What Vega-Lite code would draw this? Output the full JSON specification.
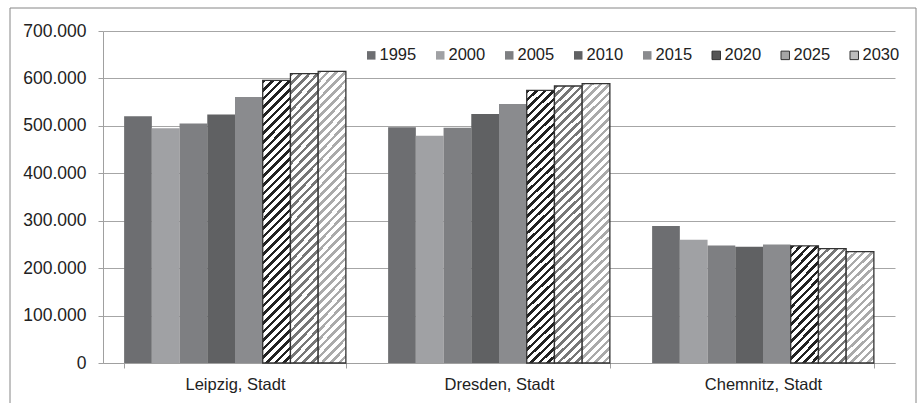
{
"$schema":"https://vega.github.io/schema/vega-lite/v6.json",
"width":792,"height":332,
"autosize":{"type":"none"},
"padding":{"left":103,"top":31,"right":27,"bottom":40},
"background":"white",
"data":{"values":[
{"city":"Leipzig, Stadt","year":"1995","value":520000},
{"city":"Leipzig, Stadt","year":"2000","value":495000},
{"city":"Leipzig, Stadt","year":"2005","value":505000},
{"city":"Leipzig, Stadt","year":"2010","value":524000},
{"city":"Leipzig, Stadt","year":"2015","value":561000},
{"city":"Leipzig, Stadt","year":"2020","value":596000},
{"city":"Leipzig, Stadt","year":"2025","value":610000},
{"city":"Leipzig, Stadt","year":"2030","value":615000},
{"city":"Dresden, Stadt","year":"1995","value":497000},
{"city":"Dresden, Stadt","year":"2000","value":479000},
{"city":"Dresden, Stadt","year":"2005","value":496000},
{"city":"Dresden, Stadt","year":"2010","value":525000},
{"city":"Dresden, Stadt","year":"2015","value":546000},
{"city":"Dresden, Stadt","year":"2020","value":575000},
{"city":"Dresden, Stadt","year":"2025","value":584000},
{"city":"Dresden, Stadt","year":"2030","value":589000},
{"city":"Chemnitz, Stadt","year":"1995","value":289000},
{"city":"Chemnitz, Stadt","year":"2000","value":260000},
{"city":"Chemnitz, Stadt","year":"2005","value":248000},
{"city":"Chemnitz, Stadt","year":"2010","value":245000},
{"city":"Chemnitz, Stadt","year":"2015","value":250000},
{"city":"Chemnitz, Stadt","year":"2020","value":247000},
{"city":"Chemnitz, Stadt","year":"2025","value":241000},
{"city":"Chemnitz, Stadt","year":"2030","value":235000}
]},
"layer":[
{"mark":{"type":"bar","strokeWidth":1.3},
"encoding":{
"x":{"field":"city","type":"nominal","sort":["Leipzig, Stadt","Dresden, Stadt","Chemnitz, Stadt"],"scale":{"paddingInner":0.16,"paddingOuter":0.08},"axis":{"title":null,"labelAngle":0,"tickBand":"extent","tickSize":5,"labelPadding":8,"grid":false,"labelFontSize":16.5}},
"xOffset":{"field":"year","type":"nominal","sort":["1995","2000","2005","2010","2015","2020","2025","2030"],"scale":{"paddingInner":0,"paddingOuter":0}},
"y":{"field":"value","type":"quantitative","scale":{"domain":[0,700000],"nice":false},"axis":{"title":null,"values":[0,100000,200000,300000,400000,500000,600000,700000],"labelExpr":"replace(format(datum.value, ','), ',', '.')","tickSize":5,"labelPadding":12,"grid":true,"labelFontSize":17.5}},
"stroke":{"field":"year","type":"nominal",
"scale":{"domain":["1995","2000","2005","2010","2015","2020","2025","2030"],"range":["transparent","transparent","transparent","transparent","transparent","#333333","#333333","#333333"]},
"legend":{"title":null,"orient":"none","legendX":260,"legendY":16,"direction":"horizontal","columns":8,"columnPadding":15,"symbolType":"square","symbolSize":72,"symbolStrokeWidth":1,"labelFontSize":16.5,"labelOffset":0,"padding":0,"labelColor":"#222"}},
"fill":{"field":"year","type":"nominal",
"scale":{"domain":["1995","2000","2005","2010","2015","2020","2025","2030"],"range":["#6d6e71","#a0a1a4","#7e7f82","#606163","#8a8b8e","#555555","#a5a5a5","#bdbdbd"]},
"legend":{"title":null,"orient":"none","legendX":260,"legendY":16,"direction":"horizontal","columns":8,"columnPadding":15,"symbolType":"square","symbolSize":72,"symbolStrokeWidth":1,"labelFontSize":16.5,"labelOffset":0,"padding":0,"labelColor":"#222"},
"condition":[
{"test":"datum.year==='2020'&&datum.city!=='Chemnitz, Stadt'","value":{"gradient":"linear","x1":0,"y1":0,"x2":0.1069,"y2":1.0877,"stops":[
{"offset":0,"color":"#222"},{"offset":0.0117,"color":"#222"},{"offset":0.0117,"color":"#fff"},{"offset":0.0278,"color":"#fff"},
{"offset":0.0278,"color":"#222"},{"offset":0.0394,"color":"#222"},{"offset":0.0394,"color":"#fff"},{"offset":0.0556,"color":"#fff"},
{"offset":0.0556,"color":"#222"},{"offset":0.0672,"color":"#222"},{"offset":0.0672,"color":"#fff"},{"offset":0.0833,"color":"#fff"},
{"offset":0.0833,"color":"#222"},{"offset":0.095,"color":"#222"},{"offset":0.095,"color":"#fff"},{"offset":0.1111,"color":"#fff"},
{"offset":0.1111,"color":"#222"},{"offset":0.1228,"color":"#222"},{"offset":0.1228,"color":"#fff"},{"offset":0.1389,"color":"#fff"},
{"offset":0.1389,"color":"#222"},{"offset":0.1506,"color":"#222"},{"offset":0.1506,"color":"#fff"},{"offset":0.1667,"color":"#fff"},
{"offset":0.1667,"color":"#222"},{"offset":0.1783,"color":"#222"},{"offset":0.1783,"color":"#fff"},{"offset":0.1944,"color":"#fff"},
{"offset":0.1944,"color":"#222"},{"offset":0.2061,"color":"#222"},{"offset":0.2061,"color":"#fff"},{"offset":0.2222,"color":"#fff"},
{"offset":0.2222,"color":"#222"},{"offset":0.2339,"color":"#222"},{"offset":0.2339,"color":"#fff"},{"offset":0.25,"color":"#fff"},
{"offset":0.25,"color":"#222"},{"offset":0.2617,"color":"#222"},{"offset":0.2617,"color":"#fff"},{"offset":0.2778,"color":"#fff"},
{"offset":0.2778,"color":"#222"},{"offset":0.2894,"color":"#222"},{"offset":0.2894,"color":"#fff"},{"offset":0.3056,"color":"#fff"},
{"offset":0.3056,"color":"#222"},{"offset":0.3172,"color":"#222"},{"offset":0.3172,"color":"#fff"},{"offset":0.3333,"color":"#fff"},
{"offset":0.3333,"color":"#222"},{"offset":0.345,"color":"#222"},{"offset":0.345,"color":"#fff"},{"offset":0.3611,"color":"#fff"},
{"offset":0.3611,"color":"#222"},{"offset":0.3728,"color":"#222"},{"offset":0.3728,"color":"#fff"},{"offset":0.3889,"color":"#fff"},
{"offset":0.3889,"color":"#222"},{"offset":0.4006,"color":"#222"},{"offset":0.4006,"color":"#fff"},{"offset":0.4167,"color":"#fff"},
{"offset":0.4167,"color":"#222"},{"offset":0.4283,"color":"#222"},{"offset":0.4283,"color":"#fff"},{"offset":0.4444,"color":"#fff"},
{"offset":0.4444,"color":"#222"},{"offset":0.4561,"color":"#222"},{"offset":0.4561,"color":"#fff"},{"offset":0.4722,"color":"#fff"},
{"offset":0.4722,"color":"#222"},{"offset":0.4839,"color":"#222"},{"offset":0.4839,"color":"#fff"},{"offset":0.5,"color":"#fff"},
{"offset":0.5,"color":"#222"},{"offset":0.5117,"color":"#222"},{"offset":0.5117,"color":"#fff"},{"offset":0.5278,"color":"#fff"},
{"offset":0.5278,"color":"#222"},{"offset":0.5394,"color":"#222"},{"offset":0.5394,"color":"#fff"},{"offset":0.5556,"color":"#fff"},
{"offset":0.5556,"color":"#222"},{"offset":0.5672,"color":"#222"},{"offset":0.5672,"color":"#fff"},{"offset":0.5833,"color":"#fff"},
{"offset":0.5833,"color":"#222"},{"offset":0.595,"color":"#222"},{"offset":0.595,"color":"#fff"},{"offset":0.6111,"color":"#fff"},
{"offset":0.6111,"color":"#222"},{"offset":0.6228,"color":"#222"},{"offset":0.6228,"color":"#fff"},{"offset":0.6389,"color":"#fff"},
{"offset":0.6389,"color":"#222"},{"offset":0.6506,"color":"#222"},{"offset":0.6506,"color":"#fff"},{"offset":0.6667,"color":"#fff"},
{"offset":0.6667,"color":"#222"},{"offset":0.6783,"color":"#222"},{"offset":0.6783,"color":"#fff"},{"offset":0.6944,"color":"#fff"},
{"offset":0.6944,"color":"#222"},{"offset":0.7061,"color":"#222"},{"offset":0.7061,"color":"#fff"},{"offset":0.7222,"color":"#fff"},
{"offset":0.7222,"color":"#222"},{"offset":0.7339,"color":"#222"},{"offset":0.7339,"color":"#fff"},{"offset":0.75,"color":"#fff"},
{"offset":0.75,"color":"#222"},{"offset":0.7617,"color":"#222"},{"offset":0.7617,"color":"#fff"},{"offset":0.7778,"color":"#fff"},
{"offset":0.7778,"color":"#222"},{"offset":0.7894,"color":"#222"},{"offset":0.7894,"color":"#fff"},{"offset":0.8056,"color":"#fff"},
{"offset":0.8056,"color":"#222"},{"offset":0.8172,"color":"#222"},{"offset":0.8172,"color":"#fff"},{"offset":0.8333,"color":"#fff"},
{"offset":0.8333,"color":"#222"},{"offset":0.845,"color":"#222"},{"offset":0.845,"color":"#fff"},{"offset":0.8611,"color":"#fff"},
{"offset":0.8611,"color":"#222"},{"offset":0.8728,"color":"#222"},{"offset":0.8728,"color":"#fff"},{"offset":0.8889,"color":"#fff"},
{"offset":0.8889,"color":"#222"},{"offset":0.9006,"color":"#222"},{"offset":0.9006,"color":"#fff"},{"offset":0.9167,"color":"#fff"},
{"offset":0.9167,"color":"#222"},{"offset":0.9283,"color":"#222"},{"offset":0.9283,"color":"#fff"},{"offset":0.9444,"color":"#fff"},
{"offset":0.9444,"color":"#222"},{"offset":0.9561,"color":"#222"},{"offset":0.9561,"color":"#fff"},{"offset":0.9722,"color":"#fff"},
{"offset":0.9722,"color":"#222"},{"offset":0.9839,"color":"#222"},{"offset":0.9839,"color":"#fff"},{"offset":1,"color":"#fff"}]}},
{"test":"datum.year==='2025'&&datum.city!=='Chemnitz, Stadt'","value":{"gradient":"linear","x1":0,"y1":0,"x2":0.1069,"y2":1.0877,"stops":[
{"offset":0,"color":"#777"},{"offset":0.0117,"color":"#777"},{"offset":0.0117,"color":"#fff"},{"offset":0.0278,"color":"#fff"},
{"offset":0.0278,"color":"#777"},{"offset":0.0394,"color":"#777"},{"offset":0.0394,"color":"#fff"},{"offset":0.0556,"color":"#fff"},
{"offset":0.0556,"color":"#777"},{"offset":0.0672,"color":"#777"},{"offset":0.0672,"color":"#fff"},{"offset":0.0833,"color":"#fff"},
{"offset":0.0833,"color":"#777"},{"offset":0.095,"color":"#777"},{"offset":0.095,"color":"#fff"},{"offset":0.1111,"color":"#fff"},
{"offset":0.1111,"color":"#777"},{"offset":0.1228,"color":"#777"},{"offset":0.1228,"color":"#fff"},{"offset":0.1389,"color":"#fff"},
{"offset":0.1389,"color":"#777"},{"offset":0.1506,"color":"#777"},{"offset":0.1506,"color":"#fff"},{"offset":0.1667,"color":"#fff"},
{"offset":0.1667,"color":"#777"},{"offset":0.1783,"color":"#777"},{"offset":0.1783,"color":"#fff"},{"offset":0.1944,"color":"#fff"},
{"offset":0.1944,"color":"#777"},{"offset":0.2061,"color":"#777"},{"offset":0.2061,"color":"#fff"},{"offset":0.2222,"color":"#fff"},
{"offset":0.2222,"color":"#777"},{"offset":0.2339,"color":"#777"},{"offset":0.2339,"color":"#fff"},{"offset":0.25,"color":"#fff"},
{"offset":0.25,"color":"#777"},{"offset":0.2617,"color":"#777"},{"offset":0.2617,"color":"#fff"},{"offset":0.2778,"color":"#fff"},
{"offset":0.2778,"color":"#777"},{"offset":0.2894,"color":"#777"},{"offset":0.2894,"color":"#fff"},{"offset":0.3056,"color":"#fff"},
{"offset":0.3056,"color":"#777"},{"offset":0.3172,"color":"#777"},{"offset":0.3172,"color":"#fff"},{"offset":0.3333,"color":"#fff"},
{"offset":0.3333,"color":"#777"},{"offset":0.345,"color":"#777"},{"offset":0.345,"color":"#fff"},{"offset":0.3611,"color":"#fff"},
{"offset":0.3611,"color":"#777"},{"offset":0.3728,"color":"#777"},{"offset":0.3728,"color":"#fff"},{"offset":0.3889,"color":"#fff"},
{"offset":0.3889,"color":"#777"},{"offset":0.4006,"color":"#777"},{"offset":0.4006,"color":"#fff"},{"offset":0.4167,"color":"#fff"},
{"offset":0.4167,"color":"#777"},{"offset":0.4283,"color":"#777"},{"offset":0.4283,"color":"#fff"},{"offset":0.4444,"color":"#fff"},
{"offset":0.4444,"color":"#777"},{"offset":0.4561,"color":"#777"},{"offset":0.4561,"color":"#fff"},{"offset":0.4722,"color":"#fff"},
{"offset":0.4722,"color":"#777"},{"offset":0.4839,"color":"#777"},{"offset":0.4839,"color":"#fff"},{"offset":0.5,"color":"#fff"},
{"offset":0.5,"color":"#777"},{"offset":0.5117,"color":"#777"},{"offset":0.5117,"color":"#fff"},{"offset":0.5278,"color":"#fff"},
{"offset":0.5278,"color":"#777"},{"offset":0.5394,"color":"#777"},{"offset":0.5394,"color":"#fff"},{"offset":0.5556,"color":"#fff"},
{"offset":0.5556,"color":"#777"},{"offset":0.5672,"color":"#777"},{"offset":0.5672,"color":"#fff"},{"offset":0.5833,"color":"#fff"},
{"offset":0.5833,"color":"#777"},{"offset":0.595,"color":"#777"},{"offset":0.595,"color":"#fff"},{"offset":0.6111,"color":"#fff"},
{"offset":0.6111,"color":"#777"},{"offset":0.6228,"color":"#777"},{"offset":0.6228,"color":"#fff"},{"offset":0.6389,"color":"#fff"},
{"offset":0.6389,"color":"#777"},{"offset":0.6506,"color":"#777"},{"offset":0.6506,"color":"#fff"},{"offset":0.6667,"color":"#fff"},
{"offset":0.6667,"color":"#777"},{"offset":0.6783,"color":"#777"},{"offset":0.6783,"color":"#fff"},{"offset":0.6944,"color":"#fff"},
{"offset":0.6944,"color":"#777"},{"offset":0.7061,"color":"#777"},{"offset":0.7061,"color":"#fff"},{"offset":0.7222,"color":"#fff"},
{"offset":0.7222,"color":"#777"},{"offset":0.7339,"color":"#777"},{"offset":0.7339,"color":"#fff"},{"offset":0.75,"color":"#fff"},
{"offset":0.75,"color":"#777"},{"offset":0.7617,"color":"#777"},{"offset":0.7617,"color":"#fff"},{"offset":0.7778,"color":"#fff"},
{"offset":0.7778,"color":"#777"},{"offset":0.7894,"color":"#777"},{"offset":0.7894,"color":"#fff"},{"offset":0.8056,"color":"#fff"},
{"offset":0.8056,"color":"#777"},{"offset":0.8172,"color":"#777"},{"offset":0.8172,"color":"#fff"},{"offset":0.8333,"color":"#fff"},
{"offset":0.8333,"color":"#777"},{"offset":0.845,"color":"#777"},{"offset":0.845,"color":"#fff"},{"offset":0.8611,"color":"#fff"},
{"offset":0.8611,"color":"#777"},{"offset":0.8728,"color":"#777"},{"offset":0.8728,"color":"#fff"},{"offset":0.8889,"color":"#fff"},
{"offset":0.8889,"color":"#777"},{"offset":0.9006,"color":"#777"},{"offset":0.9006,"color":"#fff"},{"offset":0.9167,"color":"#fff"},
{"offset":0.9167,"color":"#777"},{"offset":0.9283,"color":"#777"},{"offset":0.9283,"color":"#fff"},{"offset":0.9444,"color":"#fff"},
{"offset":0.9444,"color":"#777"},{"offset":0.9561,"color":"#777"},{"offset":0.9561,"color":"#fff"},{"offset":0.9722,"color":"#fff"},
{"offset":0.9722,"color":"#777"},{"offset":0.9839,"color":"#777"},{"offset":0.9839,"color":"#fff"},{"offset":1,"color":"#fff"}]}},
{"test":"datum.year==='2030'&&datum.city!=='Chemnitz, Stadt'","value":{"gradient":"linear","x1":0,"y1":0,"x2":0.1069,"y2":1.0877,"stops":[
{"offset":0,"color":"#aaa"},{"offset":0.0117,"color":"#aaa"},{"offset":0.0117,"color":"#fff"},{"offset":0.0278,"color":"#fff"},
{"offset":0.0278,"color":"#aaa"},{"offset":0.0394,"color":"#aaa"},{"offset":0.0394,"color":"#fff"},{"offset":0.0556,"color":"#fff"},
{"offset":0.0556,"color":"#aaa"},{"offset":0.0672,"color":"#aaa"},{"offset":0.0672,"color":"#fff"},{"offset":0.0833,"color":"#fff"},
{"offset":0.0833,"color":"#aaa"},{"offset":0.095,"color":"#aaa"},{"offset":0.095,"color":"#fff"},{"offset":0.1111,"color":"#fff"},
{"offset":0.1111,"color":"#aaa"},{"offset":0.1228,"color":"#aaa"},{"offset":0.1228,"color":"#fff"},{"offset":0.1389,"color":"#fff"},
{"offset":0.1389,"color":"#aaa"},{"offset":0.1506,"color":"#aaa"},{"offset":0.1506,"color":"#fff"},{"offset":0.1667,"color":"#fff"},
{"offset":0.1667,"color":"#aaa"},{"offset":0.1783,"color":"#aaa"},{"offset":0.1783,"color":"#fff"},{"offset":0.1944,"color":"#fff"},
{"offset":0.1944,"color":"#aaa"},{"offset":0.2061,"color":"#aaa"},{"offset":0.2061,"color":"#fff"},{"offset":0.2222,"color":"#fff"},
{"offset":0.2222,"color":"#aaa"},{"offset":0.2339,"color":"#aaa"},{"offset":0.2339,"color":"#fff"},{"offset":0.25,"color":"#fff"},
{"offset":0.25,"color":"#aaa"},{"offset":0.2617,"color":"#aaa"},{"offset":0.2617,"color":"#fff"},{"offset":0.2778,"color":"#fff"},
{"offset":0.2778,"color":"#aaa"},{"offset":0.2894,"color":"#aaa"},{"offset":0.2894,"color":"#fff"},{"offset":0.3056,"color":"#fff"},
{"offset":0.3056,"color":"#aaa"},{"offset":0.3172,"color":"#aaa"},{"offset":0.3172,"color":"#fff"},{"offset":0.3333,"color":"#fff"},
{"offset":0.3333,"color":"#aaa"},{"offset":0.345,"color":"#aaa"},{"offset":0.345,"color":"#fff"},{"offset":0.3611,"color":"#fff"},
{"offset":0.3611,"color":"#aaa"},{"offset":0.3728,"color":"#aaa"},{"offset":0.3728,"color":"#fff"},{"offset":0.3889,"color":"#fff"},
{"offset":0.3889,"color":"#aaa"},{"offset":0.4006,"color":"#aaa"},{"offset":0.4006,"color":"#fff"},{"offset":0.4167,"color":"#fff"},
{"offset":0.4167,"color":"#aaa"},{"offset":0.4283,"color":"#aaa"},{"offset":0.4283,"color":"#fff"},{"offset":0.4444,"color":"#fff"},
{"offset":0.4444,"color":"#aaa"},{"offset":0.4561,"color":"#aaa"},{"offset":0.4561,"color":"#fff"},{"offset":0.4722,"color":"#fff"},
{"offset":0.4722,"color":"#aaa"},{"offset":0.4839,"color":"#aaa"},{"offset":0.4839,"color":"#fff"},{"offset":0.5,"color":"#fff"},
{"offset":0.5,"color":"#aaa"},{"offset":0.5117,"color":"#aaa"},{"offset":0.5117,"color":"#fff"},{"offset":0.5278,"color":"#fff"},
{"offset":0.5278,"color":"#aaa"},{"offset":0.5394,"color":"#aaa"},{"offset":0.5394,"color":"#fff"},{"offset":0.5556,"color":"#fff"},
{"offset":0.5556,"color":"#aaa"},{"offset":0.5672,"color":"#aaa"},{"offset":0.5672,"color":"#fff"},{"offset":0.5833,"color":"#fff"},
{"offset":0.5833,"color":"#aaa"},{"offset":0.595,"color":"#aaa"},{"offset":0.595,"color":"#fff"},{"offset":0.6111,"color":"#fff"},
{"offset":0.6111,"color":"#aaa"},{"offset":0.6228,"color":"#aaa"},{"offset":0.6228,"color":"#fff"},{"offset":0.6389,"color":"#fff"},
{"offset":0.6389,"color":"#aaa"},{"offset":0.6506,"color":"#aaa"},{"offset":0.6506,"color":"#fff"},{"offset":0.6667,"color":"#fff"},
{"offset":0.6667,"color":"#aaa"},{"offset":0.6783,"color":"#aaa"},{"offset":0.6783,"color":"#fff"},{"offset":0.6944,"color":"#fff"},
{"offset":0.6944,"color":"#aaa"},{"offset":0.7061,"color":"#aaa"},{"offset":0.7061,"color":"#fff"},{"offset":0.7222,"color":"#fff"},
{"offset":0.7222,"color":"#aaa"},{"offset":0.7339,"color":"#aaa"},{"offset":0.7339,"color":"#fff"},{"offset":0.75,"color":"#fff"},
{"offset":0.75,"color":"#aaa"},{"offset":0.7617,"color":"#aaa"},{"offset":0.7617,"color":"#fff"},{"offset":0.7778,"color":"#fff"},
{"offset":0.7778,"color":"#aaa"},{"offset":0.7894,"color":"#aaa"},{"offset":0.7894,"color":"#fff"},{"offset":0.8056,"color":"#fff"},
{"offset":0.8056,"color":"#aaa"},{"offset":0.8172,"color":"#aaa"},{"offset":0.8172,"color":"#fff"},{"offset":0.8333,"color":"#fff"},
{"offset":0.8333,"color":"#aaa"},{"offset":0.845,"color":"#aaa"},{"offset":0.845,"color":"#fff"},{"offset":0.8611,"color":"#fff"},
{"offset":0.8611,"color":"#aaa"},{"offset":0.8728,"color":"#aaa"},{"offset":0.8728,"color":"#fff"},{"offset":0.8889,"color":"#fff"},
{"offset":0.8889,"color":"#aaa"},{"offset":0.9006,"color":"#aaa"},{"offset":0.9006,"color":"#fff"},{"offset":0.9167,"color":"#fff"},
{"offset":0.9167,"color":"#aaa"},{"offset":0.9283,"color":"#aaa"},{"offset":0.9283,"color":"#fff"},{"offset":0.9444,"color":"#fff"},
{"offset":0.9444,"color":"#aaa"},{"offset":0.9561,"color":"#aaa"},{"offset":0.9561,"color":"#fff"},{"offset":0.9722,"color":"#fff"},
{"offset":0.9722,"color":"#aaa"},{"offset":0.9839,"color":"#aaa"},{"offset":0.9839,"color":"#fff"},{"offset":1,"color":"#fff"}]}},
{"test":"datum.year==='2020'","value":{"gradient":"linear","x1":0,"y1":0,"x2":0.2843,"y2":1.1733,"stops":[
{"offset":0,"color":"#222"},{"offset":0.0247,"color":"#222"},{"offset":0.0247,"color":"#fff"},{"offset":0.0588,"color":"#fff"},
{"offset":0.0588,"color":"#222"},{"offset":0.0835,"color":"#222"},{"offset":0.0835,"color":"#fff"},{"offset":0.1176,"color":"#fff"},
{"offset":0.1176,"color":"#222"},{"offset":0.1424,"color":"#222"},{"offset":0.1424,"color":"#fff"},{"offset":0.1765,"color":"#fff"},
{"offset":0.1765,"color":"#222"},{"offset":0.2012,"color":"#222"},{"offset":0.2012,"color":"#fff"},{"offset":0.2353,"color":"#fff"},
{"offset":0.2353,"color":"#222"},{"offset":0.26,"color":"#222"},{"offset":0.26,"color":"#fff"},{"offset":0.2941,"color":"#fff"},
{"offset":0.2941,"color":"#222"},{"offset":0.3188,"color":"#222"},{"offset":0.3188,"color":"#fff"},{"offset":0.3529,"color":"#fff"},
{"offset":0.3529,"color":"#222"},{"offset":0.3776,"color":"#222"},{"offset":0.3776,"color":"#fff"},{"offset":0.4118,"color":"#fff"},
{"offset":0.4118,"color":"#222"},{"offset":0.4365,"color":"#222"},{"offset":0.4365,"color":"#fff"},{"offset":0.4706,"color":"#fff"},
{"offset":0.4706,"color":"#222"},{"offset":0.4953,"color":"#222"},{"offset":0.4953,"color":"#fff"},{"offset":0.5294,"color":"#fff"},
{"offset":0.5294,"color":"#222"},{"offset":0.5541,"color":"#222"},{"offset":0.5541,"color":"#fff"},{"offset":0.5882,"color":"#fff"},
{"offset":0.5882,"color":"#222"},{"offset":0.6129,"color":"#222"},{"offset":0.6129,"color":"#fff"},{"offset":0.6471,"color":"#fff"},
{"offset":0.6471,"color":"#222"},{"offset":0.6718,"color":"#222"},{"offset":0.6718,"color":"#fff"},{"offset":0.7059,"color":"#fff"},
{"offset":0.7059,"color":"#222"},{"offset":0.7306,"color":"#222"},{"offset":0.7306,"color":"#fff"},{"offset":0.7647,"color":"#fff"},
{"offset":0.7647,"color":"#222"},{"offset":0.7894,"color":"#222"},{"offset":0.7894,"color":"#fff"},{"offset":0.8235,"color":"#fff"},
{"offset":0.8235,"color":"#222"},{"offset":0.8482,"color":"#222"},{"offset":0.8482,"color":"#fff"},{"offset":0.8824,"color":"#fff"},
{"offset":0.8824,"color":"#222"},{"offset":0.9071,"color":"#222"},{"offset":0.9071,"color":"#fff"},{"offset":0.9412,"color":"#fff"},
{"offset":0.9412,"color":"#222"},{"offset":0.9659,"color":"#222"},{"offset":0.9659,"color":"#fff"},{"offset":1,"color":"#fff"}]}},
{"test":"datum.year==='2025'","value":{"gradient":"linear","x1":0,"y1":0,"x2":0.2843,"y2":1.1733,"stops":[
{"offset":0,"color":"#777"},{"offset":0.0247,"color":"#777"},{"offset":0.0247,"color":"#fff"},{"offset":0.0588,"color":"#fff"},
{"offset":0.0588,"color":"#777"},{"offset":0.0835,"color":"#777"},{"offset":0.0835,"color":"#fff"},{"offset":0.1176,"color":"#fff"},
{"offset":0.1176,"color":"#777"},{"offset":0.1424,"color":"#777"},{"offset":0.1424,"color":"#fff"},{"offset":0.1765,"color":"#fff"},
{"offset":0.1765,"color":"#777"},{"offset":0.2012,"color":"#777"},{"offset":0.2012,"color":"#fff"},{"offset":0.2353,"color":"#fff"},
{"offset":0.2353,"color":"#777"},{"offset":0.26,"color":"#777"},{"offset":0.26,"color":"#fff"},{"offset":0.2941,"color":"#fff"},
{"offset":0.2941,"color":"#777"},{"offset":0.3188,"color":"#777"},{"offset":0.3188,"color":"#fff"},{"offset":0.3529,"color":"#fff"},
{"offset":0.3529,"color":"#777"},{"offset":0.3776,"color":"#777"},{"offset":0.3776,"color":"#fff"},{"offset":0.4118,"color":"#fff"},
{"offset":0.4118,"color":"#777"},{"offset":0.4365,"color":"#777"},{"offset":0.4365,"color":"#fff"},{"offset":0.4706,"color":"#fff"},
{"offset":0.4706,"color":"#777"},{"offset":0.4953,"color":"#777"},{"offset":0.4953,"color":"#fff"},{"offset":0.5294,"color":"#fff"},
{"offset":0.5294,"color":"#777"},{"offset":0.5541,"color":"#777"},{"offset":0.5541,"color":"#fff"},{"offset":0.5882,"color":"#fff"},
{"offset":0.5882,"color":"#777"},{"offset":0.6129,"color":"#777"},{"offset":0.6129,"color":"#fff"},{"offset":0.6471,"color":"#fff"},
{"offset":0.6471,"color":"#777"},{"offset":0.6718,"color":"#777"},{"offset":0.6718,"color":"#fff"},{"offset":0.7059,"color":"#fff"},
{"offset":0.7059,"color":"#777"},{"offset":0.7306,"color":"#777"},{"offset":0.7306,"color":"#fff"},{"offset":0.7647,"color":"#fff"},
{"offset":0.7647,"color":"#777"},{"offset":0.7894,"color":"#777"},{"offset":0.7894,"color":"#fff"},{"offset":0.8235,"color":"#fff"},
{"offset":0.8235,"color":"#777"},{"offset":0.8482,"color":"#777"},{"offset":0.8482,"color":"#fff"},{"offset":0.8824,"color":"#fff"},
{"offset":0.8824,"color":"#777"},{"offset":0.9071,"color":"#777"},{"offset":0.9071,"color":"#fff"},{"offset":0.9412,"color":"#fff"},
{"offset":0.9412,"color":"#777"},{"offset":0.9659,"color":"#777"},{"offset":0.9659,"color":"#fff"},{"offset":1,"color":"#fff"}]}},
{"test":"datum.year==='2030'","value":{"gradient":"linear","x1":0,"y1":0,"x2":0.2843,"y2":1.1733,"stops":[
{"offset":0,"color":"#aaa"},{"offset":0.0247,"color":"#aaa"},{"offset":0.0247,"color":"#fff"},{"offset":0.0588,"color":"#fff"},
{"offset":0.0588,"color":"#aaa"},{"offset":0.0835,"color":"#aaa"},{"offset":0.0835,"color":"#fff"},{"offset":0.1176,"color":"#fff"},
{"offset":0.1176,"color":"#aaa"},{"offset":0.1424,"color":"#aaa"},{"offset":0.1424,"color":"#fff"},{"offset":0.1765,"color":"#fff"},
{"offset":0.1765,"color":"#aaa"},{"offset":0.2012,"color":"#aaa"},{"offset":0.2012,"color":"#fff"},{"offset":0.2353,"color":"#fff"},
{"offset":0.2353,"color":"#aaa"},{"offset":0.26,"color":"#aaa"},{"offset":0.26,"color":"#fff"},{"offset":0.2941,"color":"#fff"},
{"offset":0.2941,"color":"#aaa"},{"offset":0.3188,"color":"#aaa"},{"offset":0.3188,"color":"#fff"},{"offset":0.3529,"color":"#fff"},
{"offset":0.3529,"color":"#aaa"},{"offset":0.3776,"color":"#aaa"},{"offset":0.3776,"color":"#fff"},{"offset":0.4118,"color":"#fff"},
{"offset":0.4118,"color":"#aaa"},{"offset":0.4365,"color":"#aaa"},{"offset":0.4365,"color":"#fff"},{"offset":0.4706,"color":"#fff"},
{"offset":0.4706,"color":"#aaa"},{"offset":0.4953,"color":"#aaa"},{"offset":0.4953,"color":"#fff"},{"offset":0.5294,"color":"#fff"},
{"offset":0.5294,"color":"#aaa"},{"offset":0.5541,"color":"#aaa"},{"offset":0.5541,"color":"#fff"},{"offset":0.5882,"color":"#fff"},
{"offset":0.5882,"color":"#aaa"},{"offset":0.6129,"color":"#aaa"},{"offset":0.6129,"color":"#fff"},{"offset":0.6471,"color":"#fff"},
{"offset":0.6471,"color":"#aaa"},{"offset":0.6718,"color":"#aaa"},{"offset":0.6718,"color":"#fff"},{"offset":0.7059,"color":"#fff"},
{"offset":0.7059,"color":"#aaa"},{"offset":0.7306,"color":"#aaa"},{"offset":0.7306,"color":"#fff"},{"offset":0.7647,"color":"#fff"},
{"offset":0.7647,"color":"#aaa"},{"offset":0.7894,"color":"#aaa"},{"offset":0.7894,"color":"#fff"},{"offset":0.8235,"color":"#fff"},
{"offset":0.8235,"color":"#aaa"},{"offset":0.8482,"color":"#aaa"},{"offset":0.8482,"color":"#fff"},{"offset":0.8824,"color":"#fff"},
{"offset":0.8824,"color":"#aaa"},{"offset":0.9071,"color":"#aaa"},{"offset":0.9071,"color":"#fff"},{"offset":0.9412,"color":"#fff"},
{"offset":0.9412,"color":"#aaa"},{"offset":0.9659,"color":"#aaa"},{"offset":0.9659,"color":"#fff"},{"offset":1,"color":"#fff"}]}}
]}
}},
{"mark":{"type":"point","size":0,"strokeWidth":0,"filled":true},
"encoding":{"color":{"field":"value","type":"quantitative","scale":{"range":["rgba(0,0,0,0)","rgba(0,0,0,0)"]},"legend":{"orient":"none","legendX":-93,"legendY":-23,"direction":"horizontal","gradientLength":906,"gradientThickness":400,"gradientStrokeColor":"#555","gradientStrokeWidth":1,"labelExpr":"''","labelOpacity":0,"labelFontSize":1,"title":null,"padding":0}}}}
],
"resolve":{"scale":{"color":"independent"}},
"config":{"font":"Liberation Sans","view":{"stroke":null},
"axis":{"labelFont":"Liberation Sans","labelColor":"#222","domainColor":"#a0a0a0","tickColor":"#a0a0a0","gridColor":"#a6a6a6","gridWidth":1,"domainWidth":1},
"legend":{"labelFont":"Liberation Sans"}}
}
